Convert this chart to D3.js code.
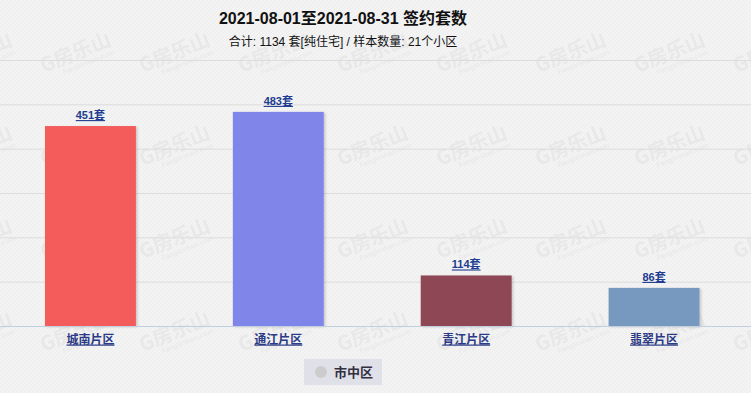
<!DOCTYPE html>
<html>
<head>
<meta charset="utf-8">
<script src="https://cdn.jsdelivr.net/npm/d3@7"></script>
<style>
  html, body { margin: 0; padding: 0; background: #f2f2f2; }
  #chart { width: 751px; height: 393px; }
  text { font-family: "Liberation Sans", "Noto Sans CJK SC", sans-serif; }
</style>
</head>
<body>
<div id="chart"></div>
<script>
// data
const categories = ["城南片区", "通江片区", "青江片区", "翡翠片区"];
const counts = [451, 483, 114, 86];
const barColors = ["#f45b5b", "#8085e9", "#8d4654", "#7798bf"];
const yTicks = [0, 100, 200, 300, 400, 500, 600];
const seriesName = "市中区";

const data = categories.map(function(c, i) {
    return {area: c, count: counts[i], color: barColors[i]};
});

/*
SET UP THE SVG CANVAS
*/
const width = 751;
const height = 393;
const plot = {top: 60, bottom: 326, left: -3.5, right: 748};

const canvas = d3.select("#chart")
    .append("svg")
    .attr("width", width)
    .attr("height", height);

const defs = canvas.append("defs");

// sand-like texture
const tex = defs.append("pattern")
    .attr("id", "tex")
    .attr("width", 4)
    .attr("height", 4)
    .attr("patternUnits", "userSpaceOnUse");
tex.append("rect").attr("width", 4).attr("height", 4).attr("fill", "#f3f3f3");
tex.append("path").attr("d", "M0,4 L4,0").attr("stroke", "#ebebeb").attr("stroke-width", 0.8);

// watermark logo tile
const wm = defs.append("pattern")
    .attr("id", "wm")
    .attr("width", 99)
    .attr("height", 93)
    .attr("x", 20)
    .attr("y", 8)
    .attr("patternUnits", "userSpaceOnUse");
const wmg = wm.append("g").attr("transform", "translate(50,50) rotate(-22)");
wmg.append("text")
    .attr("x", -30).attr("y", 4)
    .attr("font-size", 20).attr("font-weight", "bold")
    .attr("fill", "#e8e8e8")
    .style("font-family", "Noto Sans CJK SC")
    .text("G房乐山");
wmg.append("text")
    .attr("x", -12).attr("y", 13)
    .attr("font-size", 7).attr("font-weight", "bold")
    .attr("fill", "#e9e9e9")
    .text("Fangleshan.com");

const shadow = defs.append("filter")
    .attr("id", "shadow")
    .attr("x", "-10%").attr("y", "-10%")
    .attr("width", "130%").attr("height", "130%");
shadow.append("feDropShadow")
    .attr("dx", 1.5).attr("dy", 1)
    .attr("stdDeviation", 1)
    .attr("flood-color", "#000")
    .attr("flood-opacity", 0.18);

canvas.append("rect").attr("width", width).attr("height", height).attr("fill", "url(#tex)");
canvas.append("rect").attr("width", width).attr("height", height).attr("fill", "url(#wm)");

/*
CREATE THE SCALES
*/
const xScale = d3.scaleBand()
    .domain(categories)
    .range([plot.left, plot.right])
    .paddingInner(0.516)
    .paddingOuter(0.258);

const yScale = d3.scaleLinear()
    .domain([0, 600])
    .range([plot.bottom, plot.top]);

/*
GRID LINES
*/
const grid = canvas.append("g")
    .call(d3.axisLeft(yScale).tickValues(yTicks).tickSize(-width).tickFormat(""));
grid.select(".domain").remove();
grid.selectAll(".tick line")
    .attr("stroke", function(d) { return d === 0 ? "#c0d0e0" : "#dcdcdc"; })
    .attr("stroke-width", 1);

/*
DRAW BARS
*/
canvas.selectAll("rect.bar")
    .data(data)
    .enter()
    .append("rect")
        .attr("class", "bar")
        .attr("x", function(d) { return xScale(d.area); })
        .attr("y", function(d) { return yScale(d.count); })
        .attr("width", xScale.bandwidth())
        .attr("height", function(d) { return yScale(0) - yScale(d.count); })
        .attr("fill", function(d) { return d.color; })
        .attr("filter", "url(#shadow)");

// redraw the baseline above the bars
canvas.append("line")
    .attr("x1", 0).attr("x2", width)
    .attr("y1", yScale(0) + 0.5).attr("y2", yScale(0) + 0.5)
    .attr("stroke", "#c0d0e0");

/*
VALUE LABELS
*/
canvas.selectAll("text.val")
    .data(data)
    .enter()
    .append("text")
        .attr("class", "val")
        .attr("x", function(d) { return xScale(d.area) + xScale.bandwidth() / 2; })
        .attr("y", function(d) { return yScale(d.count) - 7; })
        .attr("text-anchor", "middle")
        .attr("font-size", 11)
        .attr("font-weight", "bold")
        .attr("fill", "#203c90")
        .style("text-decoration", "underline")
        .text(function(d) { return d.count + "套"; });

/*
CATEGORY LABELS
*/
const xAxis = canvas.append("g")
    .attr("transform", `translate(0,${plot.bottom})`)
    .call(d3.axisBottom(xScale).tickSize(0).tickPadding(9));
xAxis.select(".domain").remove();
xAxis.selectAll("text")
    .attr("font-size", 12)
    .attr("font-weight", "bold")
    .attr("fill", "#2b3a86")
    .style("font-family", "Noto Sans CJK SC")
    .style("text-decoration", "underline");

/*
TITLES
*/
canvas.append("text")
    .attr("x", 343)
    .attr("y", 24)
    .attr("text-anchor", "middle")
    .attr("font-size", 16)
    .attr("font-weight", "bold")
    .attr("fill", "#111")
    .text("2021-08-01至2021-08-31 签约套数");

canvas.append("text")
    .attr("x", 343)
    .attr("y", 46)
    .attr("text-anchor", "middle")
    .attr("font-size", 12)
    .attr("fill", "#111")
    .text("合计: 1134 套[纯住宅] / 样本数量: 21个小区");

/*
LEGEND
*/
const legend = canvas.append("g").attr("transform", "translate(304,359)");
legend.append("rect")
    .attr("width", 78)
    .attr("height", 26)
    .attr("fill", "#e0e0e8");
legend.append("circle")
    .attr("cx", 17)
    .attr("cy", 13)
    .attr("r", 6)
    .attr("fill", "#cccccc");
legend.append("text")
    .attr("x", 30)
    .attr("y", 18)
    .attr("font-size", 13)
    .attr("font-weight", "bold")
    .attr("fill", "#333040")
    .text(seriesName);
</script>
</body>
</html>
